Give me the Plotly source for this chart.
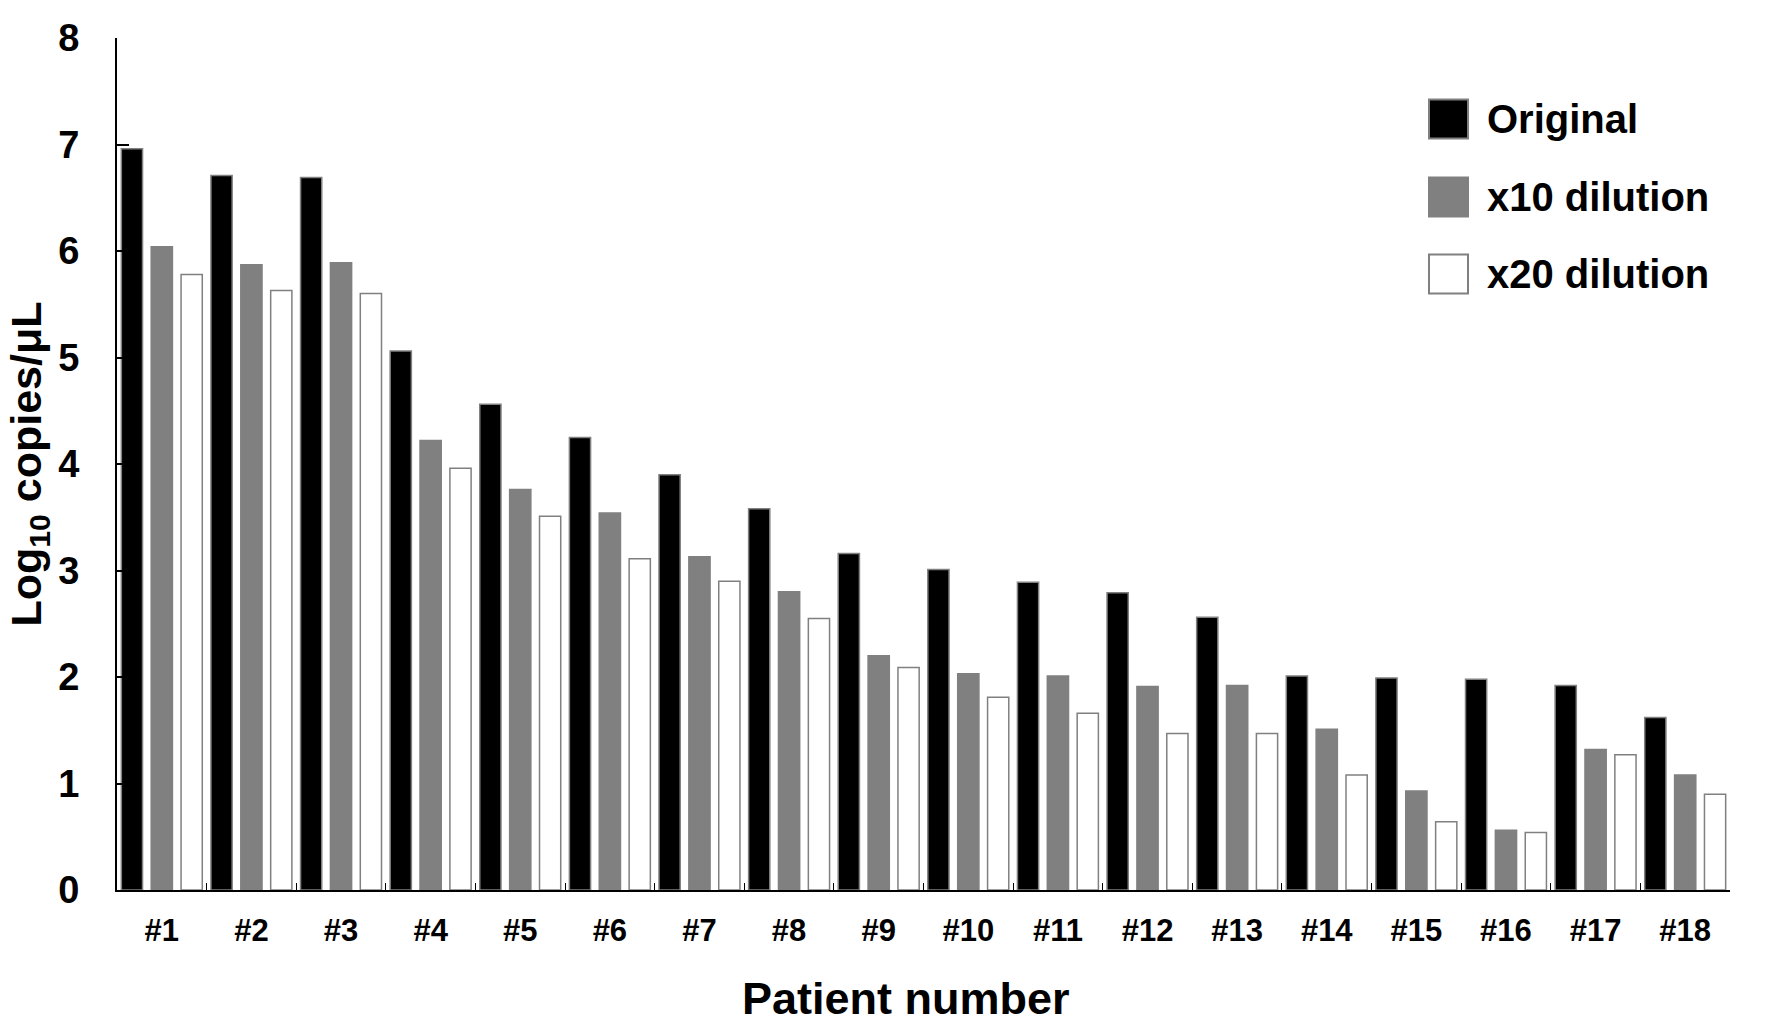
import plotly.graph_objects as go

patients = ["#1", "#2", "#3", "#4", "#5", "#6", "#7", "#8", "#9",
            "#10", "#11", "#12", "#13", "#14", "#15", "#16", "#17", "#18"]
series_names = ["Original", "x10 dilution", "x20 dilution"]
original = [6.96, 6.71, 6.69, 5.06, 4.56, 4.25, 3.90, 3.58, 3.16,
            3.01, 2.89, 2.79, 2.56, 2.01, 1.99, 1.98, 1.92, 1.62]
dil10 = [6.04, 5.87, 5.89, 4.22, 3.76, 3.54, 3.13, 2.80, 2.20,
         2.03, 2.01, 1.91, 1.92, 1.51, 0.93, 0.56, 1.32, 1.08]
dil20 = [5.78, 5.63, 5.60, 3.96, 3.51, 3.11, 2.90, 2.55, 2.09,
         1.81, 1.66, 1.47, 1.47, 1.08, 0.64, 0.54, 1.27, 0.90]
y_ticks = [0, 1, 2, 3, 4, 5, 6, 7, 8]

fills = ["#000000", "#808080", "#ffffff"]
edge = "#808080"
FONT = "Liberation Sans, Arial, sans-serif"

fig = go.Figure()
for name, vals, col in zip(series_names, [original, dil10, dil20], fills):
    fig.add_trace(go.Bar(
        x=patients, y=vals, name=name, showlegend=False,
        marker=dict(color=col, line=dict(color=edge, width=1.5)),
    ))

W, H = 1773, 1032
L, R, T, B = 117, 43, 38, 142
pw, ph = W - L - R, H - T - B

# manual legend with large square swatches
row_py = [119, 197, 274]
sw_x0, sw_x1 = 1429, 1468
half = 19.5
for name, col, py in zip(series_names, fills, row_py):
    fig.add_shape(type="rect", xref="paper", yref="paper",
                  x0=(sw_x0 - L) / pw, x1=(sw_x1 - L) / pw,
                  y0=(H - B - (py + half)) / ph, y1=(H - B - (py - half)) / ph,
                  fillcolor=col, line=dict(color=edge, width=2))
    fig.add_annotation(xref="paper", yref="paper",
                       x=(1485 - L) / pw, y=(H - B - py) / ph,
                       text=name, showarrow=False, xanchor="left", yanchor="middle",
                       font=dict(family=FONT, size=40, color="black", weight="bold"))

# x axis title (slightly left of the plot centre, as in the source)
fig.add_annotation(xref="paper", yref="paper",
                   x=(906 - L) / pw, y=(H - B - 998) / ph,
                   text="Patient number", showarrow=False,
                   xanchor="center", yanchor="middle",
                   font=dict(family=FONT, size=45, color="black", weight="bold"))

fig.update_layout(
    width=W, height=H,
    margin=dict(l=L, r=R, t=T, b=B, autoexpand=False),
    plot_bgcolor="white", paper_bgcolor="white",
    barmode="group", bargap=0.0, bargroupgap=0.29,
    font=dict(family=FONT, color="black"),
    showlegend=False,
)
fig.update_xaxes(
    type="category", range=[-0.5, 17.5],
    showline=True, linecolor="black", linewidth=2,
    ticks="inside", tickson="boundaries", ticklen=7, tickwidth=1, tickcolor="black",
    tickfont=dict(family=FONT, size=31, color="black", weight="bold"),
    ticklabelstandoff=12,
    showgrid=False, zeroline=False,
)
fig.update_yaxes(
    range=[0, 8], tickvals=y_ticks,
    showline=True, linecolor="black", linewidth=2,
    ticks="inside", ticklen=12, tickwidth=2, tickcolor="black",
    tickfont=dict(family=FONT, size=38, color="black", weight="bold"),
    ticklabelstandoff=28,
    showgrid=False, zeroline=False,
    title=dict(text="Log<sub>10</sub> copies/μL", standoff=3,
               font=dict(family=FONT, size=43, color="black", weight="bold")),
)

fig.write_html("out.html",
               config={"displayModeBar": False},
               post_script="document.body.style.margin='0';document.documentElement.style.overflow='hidden';")
